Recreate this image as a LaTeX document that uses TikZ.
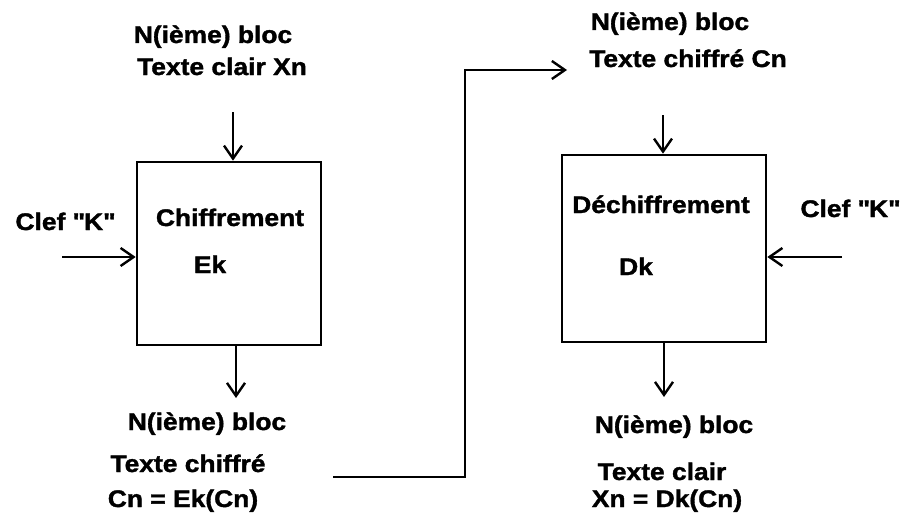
\documentclass[tikz,border=0pt]{standalone}
\usepackage{fontspec}
\setmainfont[FakeStretch=1.1,FakeBold=1.5]{Liberation Sans}
\usetikzlibrary{arrows.meta}
\tikzset{
  blockbox/.style={draw, line width=2.6pt, minimum width=184pt, minimum height=183pt, inner sep=0pt},
  lbl/.style={inner sep=0pt, anchor=base, font=\fontsize{24}{28}\selectfont\bfseries},
  flow/.style={line width=2.4pt, -{Straight Barb[length=13pt,width=18pt,line width=2.4pt]}},
}
\newcommand{\qk}{\textquotedbl K\textquotedbl}
\begin{document}
\begin{tikzpicture}[x=1pt,y=-1pt]
\useasboundingbox (0,0) rectangle (904,527);

% cipher block and decipher block
\node[blockbox] (enc) at (229,253.5) {};
\node[blockbox, minimum width=204pt, minimum height=187pt] (dec) at (664,248.5) {};

% encryption side labels
\node[lbl] (encin1) at (213,43) {N(ième) bloc};
\node[lbl] (encin2) at (222,75) {Texte clair Xn};
\node[lbl] (enckey) at (65,230) {Clef \qk};
\node[lbl] (encname) at (230,226) {Chiffrement};
\node[lbl] (encop) at (210,273) {Ek};
\node[lbl] (encout1) at (207,430) {N(ième) bloc};
\node[lbl] (encout2) at (188,472) {Texte chiffré};
\node[lbl] (encout3) at (183,507) {Cn = Ek(Cn)};

% decryption side labels
\node[lbl] (decin1) at (670,30) {N(ième) bloc};
\node[lbl] (decin2) at (688,67) {Texte chiffré Cn};
\node[lbl] (deckey) at (850,217) {Clef \qk};
\node[lbl] (decname) at (661,213) {Déchiffrement};
\node[lbl] (decop) at (636,275) {Dk};
\node[lbl] (decout1) at (674,433) {N(ième) bloc};
\node[lbl] (decout2) at (662,480) {Texte clair};
\node[lbl] (decout3) at (667,507) {Xn = Dk(Cn)};

% free ends of the connectors
\coordinate (encinA) at (233,112);
\coordinate (enckeyA) at (62,257);
\coordinate (encoutA) at (236,398);
\coordinate (linkA) at (333,477);
\coordinate (linkB) at (465,477);
\coordinate (linkC) at (465,70);
\coordinate (linkD) at (567,70);
\coordinate (decinA) at (663,115);
\coordinate (deckeyA) at (842,257);
\coordinate (decoutA) at (664,397);

% connectors
\draw[flow] (encinA) -- (encinA |- enc.north);
\draw[flow] (enckeyA) -- (enckeyA -| enc.west);
\draw[flow] (encoutA |- enc.south) -- (encoutA);
\draw[flow] (linkA) -- (linkB) -- (linkC) -- (linkD);
\draw[flow] (decinA) -- (decinA |- dec.north);
\draw[flow] (deckeyA) -- (deckeyA -| dec.east);
\draw[flow] (decoutA |- dec.south) -- (decoutA);
\end{tikzpicture}
\end{document}
